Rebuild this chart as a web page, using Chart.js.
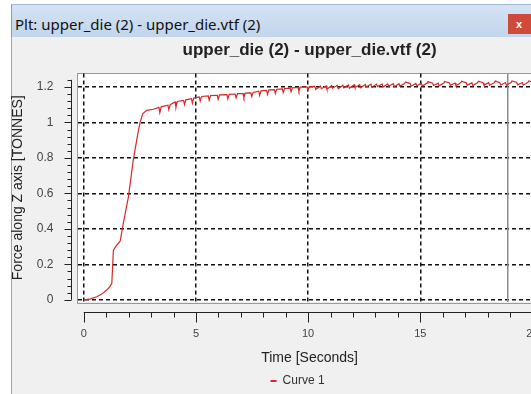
<!DOCTYPE html>
<html>
<head>
<meta charset="utf-8">
<script src="https://cdn.jsdelivr.net/npm/chart.js@4.4.0/dist/chart.umd.min.js"></script>
<style>
html, body { margin: 0; padding: 0; width: 531px; height: 394px; overflow: hidden; background: #fff; }
#win { position: absolute; left: 11px; top: 4px; width: 570px; height: 400px; background: #f0f0f0; box-shadow: inset 1px 0 #8fa6c2; }
#bar { position: absolute; left: 0; top: 0; width: 100%; height: 33px; background: linear-gradient(#d4e3f4, #c2d5ec); border-top: 1px solid #a3b8d2; box-sizing: border-box; box-shadow: inset 1px 0 #7f9bbf; }
#bar span { position: absolute; left: 4px; top: 10px; font: 15px 'Noto Sans', 'Liberation Sans', sans-serif; color: #111; line-height: 18px; }
#close { position: absolute; left: 497px; top: 9px; width: 34px; height: 20px; background: #cf4a3b; color: #fff; font: bold 11px 'Liberation Sans', sans-serif; line-height: 20px; padding-left: 8px; box-sizing: border-box; }
canvas { position: absolute; left: 0; top: 33px; }
</style>
</head>
<body>
<div id="win">
  <div id="bar"><span>Plt: upper_die (2) - upper_die.vtf (2)</span><div id="close">x</div></div>
  <canvas id="chart" width="553" height="360"></canvas>
</div>
<script>
const chartTitle = 'upper_die (2) - upper_die.vtf (2)';
const xTitle = 'Time [Seconds]';
const yTitle = 'Force along Z axis [TONNES]';
const seriesName = 'Curve 1';
const xTicks = [0, 5, 10, 15, 20];
const yTicks = [0, 0.2, 0.4, 0.6, 0.8, 1, 1.2];
const cursorTime = 18.9;

// Curve 1 (time in s, force in tonnes)
const timeS = [
  0, 0.3, 0.58, 0.8, 1.02, 1.15, 1.25, 1.29, 1.32, 1.45,
  1.62, 1.76, 1.99, 2.21, 2.4, 2.51, 2.63, 2.81, 3.1,
  3.35, 3.39, 3.45,  3.75, 3.79, 3.85,  4.07, 4.11, 4.17,
  4.45, 4.49, 4.55,  4.8, 4.84, 4.9,  5.15, 5.19, 5.25,
  5.55, 5.59, 5.65,  5.95, 5.99, 6.05,  6.38, 6.42, 6.48,
  6.75, 6.79, 6.85,  7.1, 7.14, 7.2,  7.45, 7.49, 7.55,
  7.8, 7.84, 7.9,  8.15, 8.19, 8.25,  8.5, 8.54, 8.6,
  8.85, 8.89, 8.95,  9.2, 9.24, 9.3,  9.55, 9.59, 9.65,
  9.95, 9.99, 10.05,
  10.3, 10.34, 10.55, 10.59, 10.8, 10.84, 11.05, 11.09,
  11.3, 11.34, 11.55, 11.59, 11.8, 11.84, 12.05, 12.09,
  12.3, 12.34, 12.55, 12.59, 12.8, 12.84, 13.05, 13.09,
  13.3, 13.34, 13.55, 13.59, 13.8, 13.84, 14.05, 14.09,
  14.3, 14.34, 14.55, 14.59, 14.8, 14.84, 15.05, 15.09,
  15.3, 15.34, 15.55, 15.59, 15.8, 15.84, 16.05, 16.09,
  16.3, 16.34, 16.55, 16.59, 16.8, 16.84, 17.05, 17.09,
  17.3, 17.34, 17.55, 17.59, 17.8, 17.84, 18.05, 18.09,
  18.3, 18.34, 18.55, 18.59, 18.8, 18.84, 19.05, 19.09,
  19.3, 19.34, 19.55, 19.59, 19.8, 19.84, 20.05, 20.09,
  20.3, 20.34, 20.5
];
const forceT = [
  0, 0.005, 0.017, 0.032, 0.055, 0.072, 0.093, 0.2, 0.28, 0.305,
  0.33, 0.43, 0.58, 0.79, 0.93, 1.0, 1.05, 1.068, 1.074,
  1.085, 1.055, 1.088,  1.097, 1.072, 1.1,  1.115, 1.085, 1.118,
  1.124, 1.1, 1.127,  1.134, 1.108, 1.137,  1.144, 1.12, 1.146,
  1.149, 1.125, 1.151,  1.153, 1.13, 1.155,  1.156, 1.133, 1.158,
  1.16, 1.138, 1.162,  1.163, 1.14, 1.165,  1.167, 1.146, 1.169,
  1.176, 1.152, 1.178,  1.181, 1.158, 1.183,  1.185, 1.163, 1.187,
  1.189, 1.168, 1.191,  1.193, 1.172, 1.195,  1.197, 1.176, 1.199,
  1.201, 1.18, 1.202,
  1.203, 1.185, 1.205, 1.19, 1.206, 1.187, 1.208, 1.193,
  1.209, 1.19, 1.21, 1.195, 1.211, 1.192, 1.212, 1.197,
  1.213, 1.195, 1.214, 1.2, 1.215, 1.197, 1.216, 1.202,
  1.216, 1.199, 1.217, 1.204, 1.218, 1.201, 1.218, 1.205,
  1.219, 1.228, 1.219, 1.204, 1.22, 1.207, 1.22, 1.205,
  1.221, 1.23, 1.221, 1.208, 1.221, 1.206, 1.222, 1.231,
  1.222, 1.209, 1.222, 1.207, 1.223, 1.232, 1.223, 1.21,
  1.223, 1.208, 1.223, 1.232, 1.224, 1.211, 1.224, 1.209,
  1.224, 1.233, 1.224, 1.211, 1.225, 1.21, 1.225, 1.234,
  1.225, 1.212, 1.225, 1.21, 1.226, 1.234, 1.226, 1.213,
  1.226, 1.211, 1.227
];

const xMin = -0.28, xMax = 20.41;
const yMin = -0.0124, yMax = 1.2757;

const fontFamily = "'Liberation Sans', Arial, sans-serif";
Chart.defaults.font.family = fontFamily;

// white plot box + the detached axes with minor ticks
const plotFrame = {
  id: 'plotFrame',
  beforeDraw(chart) {
    const ctx = chart.ctx, a = chart.chartArea;
    ctx.save();
    ctx.fillStyle = '#fff';
    ctx.fillRect(a.left, a.top, a.right - a.left, a.bottom - a.top);
    ctx.strokeStyle = '#9a9a9a';
    ctx.lineWidth = 1;
    ctx.strokeRect(Math.round(a.left) - 0.5, Math.round(a.top) - 0.5, a.right - a.left + 1, Math.round(a.bottom - a.top) + 1);
    ctx.restore();
  },
  afterDraw(chart) {
    const ctx = chart.ctx, a = chart.chartArea;
    const xs = chart.scales.x, ys = chart.scales.y;
    ctx.save();
    ctx.strokeStyle = '#222';
    ctx.lineWidth = 1;
    ctx.beginPath();
    const ax = Math.round(a.left - 7) + 0.5;
    ctx.moveTo(ax, ys.getPixelForValue(0));
    ctx.lineTo(ax, ys.getPixelForValue(1.24));
    for (let k = 0; k <= 31; k++) {
      const p = Math.round(ys.getPixelForValue(k * 0.04)) + 0.5;
      ctx.moveTo(ax, p);
      ctx.lineTo(ax - (k % 5 === 0 ? 7 : 4), p);
    }
    const ay = Math.round(a.bottom + 10) + 0.5;
    ctx.moveTo(xs.getPixelForValue(0), ay);
    ctx.lineTo(a.right, ay);
    for (let k = 0; k <= 20; k++) {
      const p = Math.round(xs.getPixelForValue(k)) + 0.5;
      ctx.moveTo(p, ay);
      ctx.lineTo(p, ay + (k % 5 === 0 ? 10 : 5));
    }
    ctx.stroke();
    ctx.restore();
  }
};

const ctx = document.getElementById('chart');
new Chart(ctx, {
  type: 'line',
  data: {
    datasets: [
      {
        label: seriesName,
        data: timeS.map((t, i) => ({ x: t, y: forceT[i] })),
        borderColor: '#d42a2a',
        backgroundColor: '#d42a2a',
        borderWidth: 1.2,
        pointRadius: 0,
        tension: 0
      },
      {
        label: 'cursor',
        data: [{ x: cursorTime, y: yMin }, { x: cursorTime, y: yMax }],
        borderColor: '#8c8c8c',
        borderWidth: 1.5,
        pointRadius: 0
      }
    ]
  },
  options: {
    responsive: false,
    animation: false,
    devicePixelRatio: 1,
    layout: { padding: 0 },
    plugins: {
      title: {
        display: true,
        text: chartTitle,
        fullSize: false,
        color: '#222',
        font: { size: 17, weight: 'bold' },
        padding: { top: 3, bottom: 13.1 }
      },
      legend: {
        position: 'bottom',
        fullSize: false,
        labels: {
          color: '#333',
          font: { size: 12 },
          boxWidth: 6,
          boxHeight: 2,
          padding: 10,
          filter: item => item.datasetIndex === 0,
          generateLabels: chart => Chart.defaults.plugins.legend.labels.generateLabels(chart)
            .map(item => Object.assign(item, { text: item.text + '\u2003\u2003', lineWidth: 0 }))
        }
      },
      tooltip: { enabled: false }
    },
    scales: {
      x: {
        type: 'linear',
        min: xMin,
        max: xMax,
        afterBuildTicks: s => { s.ticks = xTicks.map(v => ({ value: v })); },
        afterFit: s => { s.height = 63; },
        grid: { color: '#111', lineWidth: 1.5, drawTicks: false },
        border: { display: false, dash: [4, 3] },
        ticks: { padding: 25, color: '#444', font: { size: 11 }, maxRotation: 0, autoSkip: false, callback: v => String(v) },
        title: { display: true, text: xTitle, color: '#222', font: { size: 14, lineHeight: 1 }, padding: { top: 0, bottom: 0 } }
      },
      y: {
        min: yMin,
        max: yMax,
        afterBuildTicks: s => { s.ticks = yTicks.map(v => ({ value: v })); },
        afterFit: s => { s.width = 66.5; },
        grid: { color: '#111', lineWidth: 1.5, drawTicks: false },
        border: { display: false, dash: [4, 3] },
        ticks: { padding: 24, color: '#444', font: { size: 12 }, callback: v => String(v) },
        title: { display: true, text: yTitle, color: '#222', font: { size: 14, lineHeight: 1 }, padding: { top: 0, bottom: 0 } }
      }
    }
  },
  plugins: [plotFrame]
});
</script>
</body>
</html>
